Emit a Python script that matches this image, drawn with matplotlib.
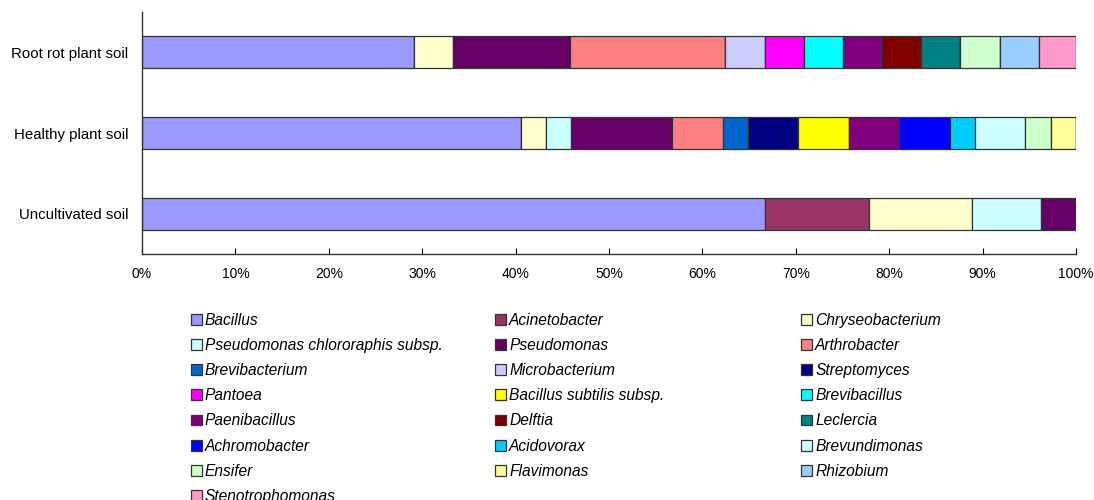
import matplotlib.pyplot as plt
from matplotlib.patches import Patch
import numpy as np

plt.rcParams['font.family'] = ['Liberation Sans', 'DejaVu Sans']

# bottom to top on the y axis
samples = ['Uncultivated soil', 'Healthy plant soil', 'Root rot plant soil']

# genus names, in stacking / legend order
genera = ['Bacillus', 'Acinetobacter', 'Chryseobacterium',
          'Pseudomonas chlororaphis subsp.', 'Pseudomonas', 'Arthrobacter',
          'Brevibacterium', 'Microbacterium', 'Streptomyces',
          'Pantoea', 'Bacillus subtilis subsp.', 'Brevibacillus',
          'Paenibacillus', 'Delftia', 'Leclercia',
          'Achromobacter', 'Acidovorax', 'Brevundimonas',
          'Ensifer', 'Flavimonas', 'Rhizobium',
          'Stenotrophomonas']

colors = ['#9999FF', '#993366', '#FFFFCC',
          '#CCFFFF', '#660066', '#FF8080',
          '#0066CC', '#CCCCFF', '#000080',
          '#FF00FF', '#FFFF00', '#00FFFF',
          '#800080', '#800000', '#008080',
          '#0000FF', '#00CCFF', '#CCFFFF',
          '#CCFFCC', '#FFFF99', '#99CCFF',
          '#FF99CC']

# relative abundance (%) per genus, [uncultivated, healthy, root rot]
bacillus = [66.7, 40.5, 29.2]
acinetobacter = [11.1, 0, 0]
chryseobacterium = [11.1, 2.7, 4.2]
pseudomonas_chlororaphis = [7.4, 2.7, 0]
pseudomonas = [3.7, 10.8, 12.5]
arthrobacter = [0, 5.4, 16.7]
brevibacterium = [0, 2.7, 0]
microbacterium = [0, 0, 4.2]
streptomyces = [0, 5.4, 0]
pantoea = [0, 0, 4.2]
bacillus_subtilis = [0, 5.4, 0]
brevibacillus = [0, 0, 4.2]
paenibacillus = [0, 5.4, 4.2]
delftia = [0, 0, 4.2]
leclercia = [0, 0, 4.2]
achromobacter = [0, 5.4, 0]
acidovorax = [0, 2.7, 0]
brevundimonas = [0, 5.4, 0]
ensifer = [0, 2.7, 4.2]
flavimonas = [0, 2.7, 0]
rhizobium = [0, 0, 4.2]
stenotrophomonas = [0, 0, 4.0]

values = [bacillus, acinetobacter, chryseobacterium, pseudomonas_chlororaphis,
          pseudomonas, arthrobacter, brevibacterium, microbacterium,
          streptomyces, pantoea, bacillus_subtilis, brevibacillus,
          paenibacillus, delftia, leclercia, achromobacter, acidovorax,
          brevundimonas, ensifer, flavimonas, rhizobium, stenotrophomonas]

data = np.array(values, dtype=float)
data = data / data.sum(axis=0) * 100

fig = plt.figure(figsize=(10.94, 5.0), dpi=100)
ax = fig.add_axes([0.1298, 0.492, 0.8537, 0.484])

y = np.arange(len(samples))
left = np.zeros(len(samples))
for name, col, row in zip(genera, colors, data):
    ax.barh(y, row, left=left, height=0.4, color=col,
            edgecolor='#333333', linewidth=0.9)
    left += row

ax.set_xlim(0, 100)
ax.set_ylim(-0.5, 2.5)
ax.set_yticks(y)
ax.set_yticklabels(samples, fontsize=10.8)
ax.set_xticks(np.arange(0, 101, 10))
ax.set_xticklabels(['%d%%' % v for v in range(0, 101, 10)], fontsize=10)
ax.tick_params(axis='x', direction='in', length=4, width=0.8, pad=9)
ax.tick_params(axis='y', length=0, pad=10)
for s in ['top', 'right']:
    ax.spines[s].set_visible(False)
for s in ['left', 'bottom']:
    ax.spines[s].set_color('#333333')
    ax.spines[s].set_linewidth(1.0)

# legend laid out row by row in three columns
handles = [Patch(facecolor=c, edgecolor='#333333', linewidth=0.9) for c in colors]
col_x = [0.1746, 0.4525, 0.7323]
for i, x0 in enumerate(col_x):
    idx = list(range(i, len(genera), 3))
    leg = fig.legend([handles[k] for k in idx], [genera[k] for k in idx],
                     loc='upper left', bbox_to_anchor=(x0, 0.374),
                     frameon=False, borderpad=0, borderaxespad=0,
                     handlelength=0.7, handleheight=0.7, handletextpad=0.2,
                     labelspacing=0.65, prop={'style': 'italic', 'size': 11.2})

fig.savefig('out.png', dpi=100)
